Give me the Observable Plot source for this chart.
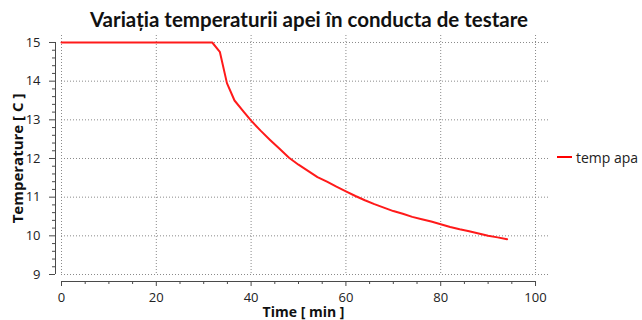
<!DOCTYPE html>
<html>
<head>
<meta charset="utf-8">
<script src="https://cdn.jsdelivr.net/npm/d3@7"></script>
<script src="https://cdn.jsdelivr.net/npm/@observablehq/plot@0.6"></script>
<style>
  body { margin: 0; background: #fff; }
  #wrap { position: relative; width: 642px; height: 320px; overflow: hidden; background: #fff; }
  #title { position: absolute; left: 0; top: 6px; width: 618px; text-align: center;
           font: bold 20.5px Lato, "Open Sans", sans-serif; color: #111; white-space: nowrap; line-height: 26px; }
  #chart { position: absolute; left: 0; top: 32px; }
  #legend { position: absolute; left: 557px; top: 147px; font: 14px "Open Sans", sans-serif; color: #222;
            white-space: nowrap; display: flex; align-items: center; height: 20px; }
  #legend .sw { display: inline-block; width: 15px; height: 2px; background: #ff0000; margin-right: 4px; }
</style>
</head>
<body>
<div id="wrap">
  <div id="title">Variația temperaturii apei în conducta de testare</div>
  <div id="chart"></div>
  <div id="legend"><span class="sw"></span><span>temp apa</span></div>
</div>
<script>
// Data
const timeMin = [0, 31.8, 33.4, 34.9, 36.5, 38.5, 40, 42, 44, 46, 48, 50, 52, 54, 56, 58, 60, 62, 64, 66, 68, 70, 72, 74, 76, 78, 80, 82, 84, 86, 88, 90, 92, 94];
const tempApa = [15, 15, 14.76, 13.95, 13.5, 13.2, 12.98, 12.72, 12.48, 12.25, 12.02, 11.84, 11.68, 11.52, 11.4, 11.27, 11.15, 11.03, 10.92, 10.82, 10.73, 10.64, 10.57, 10.49, 10.43, 10.37, 10.30, 10.23, 10.17, 10.12, 10.06, 10.0, 9.96, 9.91];
const xMajorTicks = [0, 20, 40, 60, 80, 100];
const xMinorTicks = [5, 10, 15, 25, 30, 35, 45, 50, 55, 65, 70, 75, 85, 90, 95];
const yMajorTicks = [9, 10, 11, 12, 13, 14, 15];
const yMinorTicks = [9.2, 9.4, 9.6, 9.8, 10.2, 10.4, 10.6, 10.8, 11.2, 11.4, 11.6, 11.8, 12.2, 12.4, 12.6, 12.8, 13.2, 13.4, 13.6, 13.8, 14.2, 14.4, 14.6, 14.8];
const seriesName = "temp apa";
const xTitle = "Time [ min ]";
const yTitle = "Temperature [ C ]";

const data = timeMin.map((t, i) => ({time: t, temp: tempApa[i]}));
const xFirst = xMajorTicks[0], xLast = xMajorTicks[xMajorTicks.length - 1];
const yFirst = yMajorTicks[0], yLast = yMajorTicks[yMajorTicks.length - 1];

const gridStyle = {stroke: "#8a8a8a", strokeOpacity: 1, strokeDasharray: "1,2", strokeWidth: 1};
const axisColor = "#4a4a4a";

const chart = Plot.plot({
  width: 642,
  height: 288,
  marginLeft: 61,
  marginRight: 92,
  marginTop: 3,
  marginBottom: 46,
  style: {fontFamily: "'Open Sans', sans-serif", fontSize: "13px", color: "#222", background: "transparent"},
  x: {domain: [0, 103.16], axis: null},
  y: {domain: [9, 15.181], axis: null},
  marks: [
    Plot.gridX(xMajorTicks, gridStyle),
    Plot.gridY(yMajorTicks, gridStyle),
    Plot.ruleX([{x: xFirst, y1: yFirst, y2: yLast}], {x: "x", y1: "y1", y2: "y2", dx: -6, stroke: axisColor}),
    Plot.ruleY([{y: yFirst, x1: xFirst, x2: xLast}], {y: "y", x1: "x1", x2: "x2", dy: 7, stroke: axisColor}),
    Plot.axisY(yMajorTicks, {anchor: "left", tickSize: 6, dx: -6, tickPadding: 9, stroke: axisColor, fill: "#222", fontSize: 13, label: null}),
    Plot.axisY(yMinorTicks, {anchor: "left", tickSize: 3, dx: -6, tickFormat: () => "", stroke: axisColor, label: null}),
    Plot.axisX(xMajorTicks, {anchor: "bottom", tickSize: 5, dy: 7, tickPadding: 6, stroke: axisColor, fill: "#222", fontSize: 13, label: null}),
    Plot.axisX(xMinorTicks, {anchor: "bottom", tickSize: 3, dy: 7, tickFormat: () => "", stroke: axisColor, label: null}),
    Plot.line(data, {x: "time", y: "temp", stroke: "#ff1a1a", strokeWidth: 2}),
    Plot.text([(yFirst + yLast) / 2], {y: d => d, text: () => yTitle, frameAnchor: "left", textAnchor: "middle", dx: -43, rotate: -90,
      fontWeight: "bold", fontSize: 15, fill: "#111", lineAnchor: "middle"}),
    Plot.text([(xFirst + xLast) / 2], {x: d => d, text: () => xTitle, frameAnchor: "bottom", textAnchor: "middle", dx: 5, dy: 38,
      fontWeight: "bold", fontSize: 14, fill: "#111", lineAnchor: "middle"})
  ]
});
document.getElementById("chart").appendChild(chart);
document.querySelector("#legend span:last-child").textContent = seriesName;
</script>
</body>
</html>
